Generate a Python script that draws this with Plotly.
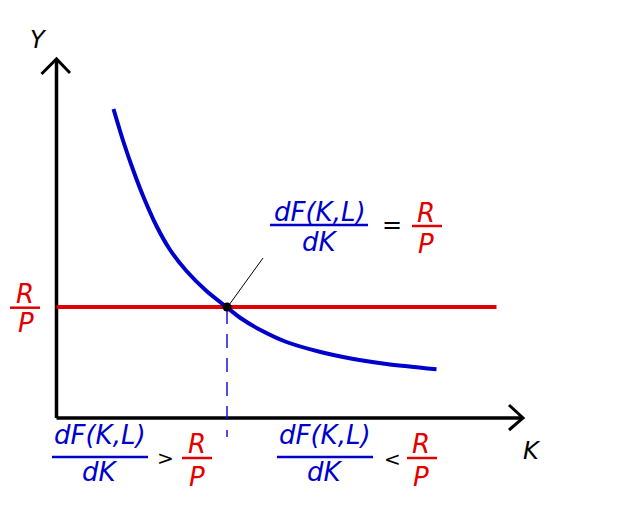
import plotly.graph_objects as go

# Economic coordinates: K (capital) on x, Y (output) on y; origin at the axes corner
curve_K = [57, 67, 77, 87, 100, 113, 130, 150, 170, 184, 204, 230, 264, 297, 330, 380]
curve_Y = [309, 276, 247, 221, 192, 169, 147, 127, 111, 100, 88, 76, 66, 59, 54, 48.7]
price_level = 111          # R/P
price_K = [0, 440]
equilibrium_K = 170.5
axis_K_max = 466.5
axis_Y_max = 359

BLUE = "#0000cc"
BLUE_DASH = "#1515dd"
RED = "#e00000"
FONT = "DejaVu Sans"

fig = go.Figure()

def line(xs, ys, color, width, dash=None):
    fig.add_trace(go.Scatter(x=xs, y=ys, mode="lines",
                             line=dict(color=color, width=width, dash=dash),
                             hoverinfo="skip", showlegend=False))

# axes with arrows
line([0, 0], [0, axis_Y_max], "black", 3.5)
line([-15, 0, 13.5], [344, axis_Y_max, 345], "black", 3)
line([0, axis_K_max], [0, 0], "black", 3.5)
line([452.5, axis_K_max, 452.5], [13, 0, -12], "black", 3)

# R/P horizontal line
line(price_K, [price_level, price_level], RED, 4)

# marginal product curve
fig.add_trace(go.Scatter(x=curve_K, y=curve_Y, mode="lines",
                         line=dict(color=BLUE, width=4, shape="spline", smoothing=0.8),
                         hoverinfo="skip", showlegend=False))

# dashed vertical at equilibrium
line([equilibrium_K, equilibrium_K], [price_level - 3, -19], BLUE_DASH, 1.5, dash="14px,10px")

# leader line
line([equilibrium_K + 2, 206.5], [price_level + 2, 160], "black", 1)

# equilibrium point
fig.add_trace(go.Scatter(x=[equilibrium_K], y=[price_level], mode="markers",
                         marker=dict(color="black", size=9),
                         hoverinfo="skip", showlegend=False))

ann = []
def txt(x, y, s, color, size=26, italic=True):
    ann.append(dict(x=x, y=y, text=s, showarrow=False, xanchor="center", yanchor="middle",
                    font=dict(family=FONT, size=size, color=color,
                              style="italic" if italic else "normal")))

shapes = []
def bar(x0, x1, y, color):
    shapes.append(dict(type="line", x0=x0, x1=x1, y0=y, y1=y, xref="x", yref="y",
                       line=dict(color=color, width=2.5)))

def fraction_block(cx, y_top, y_line, y_bot, x0, x1, op, op_x, rp_x, rp_x0, rp_x1, rp_top, rp_bot, op_y, op_size):
    txt(cx, y_top, "dF(K,L)", BLUE)
    bar(x0, x1, y_line, BLUE)
    txt(cx, y_bot, "dK", BLUE)
    txt(op_x, op_y, op, "black", size=op_size, italic=False)
    txt(rp_x, rp_top, "R", RED)
    bar(rp_x0, rp_x1, y_line - 1, RED)
    txt(rp_x, rp_bot, "P", RED)

# top label: dF/dK = R/P
fraction_block(263.5, 206, 193, 176, 213.5, 311.5, "=", 335.5, 369, 355.5, 385.5, 205, 174, 193, 24)
# bottom-left: dF/dK > R/P
fraction_block(43.5, -17, -39, -54, -4.5, 91.5, ">", 108.5, 140.5, 125.5, 155.5, -26, -59, -40, 20)
# bottom-right: dF/dK < R/P
fraction_block(268.5, -17, -39, -54, 220.5, 316.5, "<", 335.5, 364.5, 350.5, 380.5, -26, -59, -41, 20)

# left R/P label
txt(-31.5, 124, "R", RED)
bar(-46.5, -16.5, 110.3, RED)
txt(-30.5, 95, "P", RED)

# axis titles
txt(-18.5, 378, "Y", "black", size=24)
txt(475.5, -33, "K", "black", size=24)

# the page body adds an 8px margin, so the figure is 610x504 and the ranges are shifted by 8
fig.update_layout(
    width=610, height=504, autosize=False,
    margin=dict(l=0, r=0, t=0, b=0),
    paper_bgcolor="white", plot_bgcolor="white",
    xaxis=dict(range=[-48.5, 561.5], visible=False, fixedrange=True),
    yaxis=dict(range=[-94, 410], visible=False, fixedrange=True),
    annotations=ann, shapes=shapes,
)

fig.write_html("out.html")
